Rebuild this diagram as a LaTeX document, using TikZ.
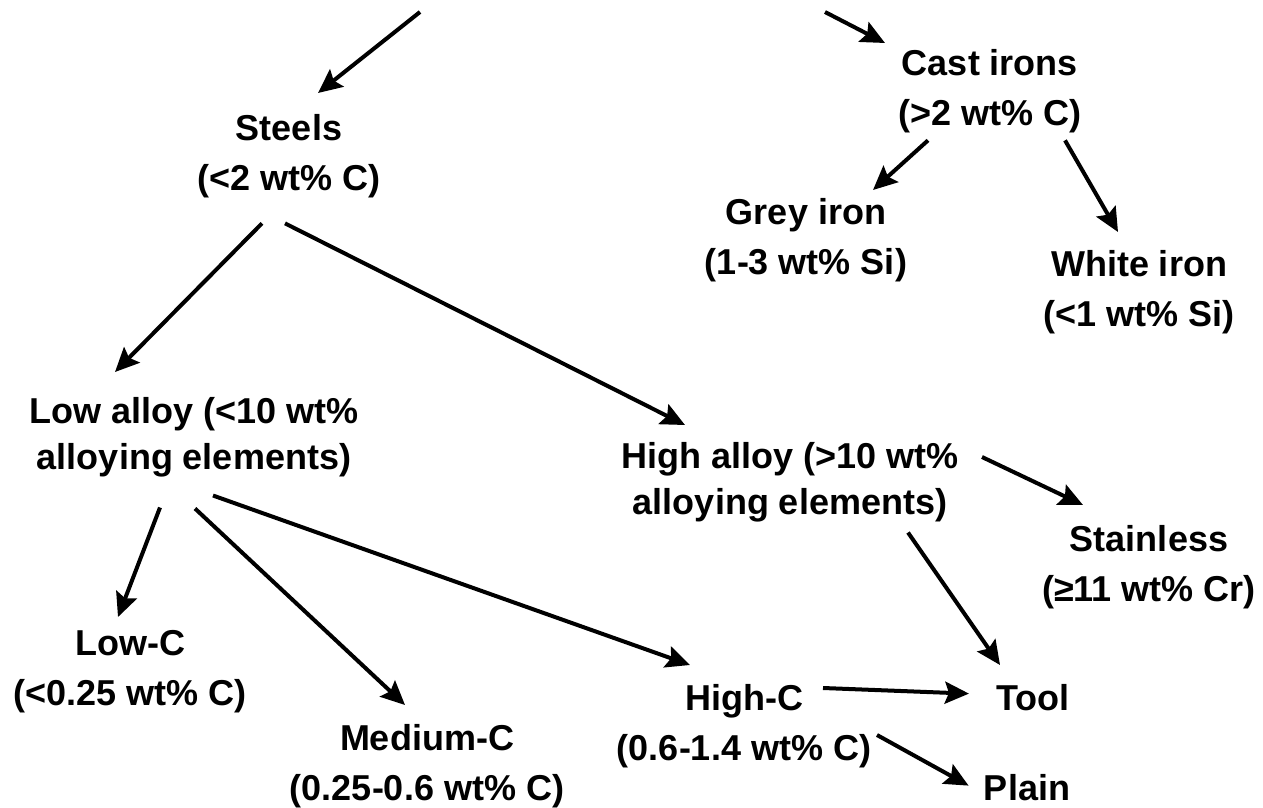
\documentclass[tikz,border=0pt]{standalone}
\usepackage{fontspec}
\setmainfont{Liberation Sans}
\usetikzlibrary{arrows.meta}

\begin{document}
\begin{tikzpicture}[x=0.5pt,y=-0.5pt,line join=round,>={Stealth[length=12pt,width=11pt,inset=2pt]},
	lbl/.style={anchor=north,inner sep=0pt,align=center,font=\bfseries\fontsize{18}{25}\selectfont},
	tight/.style={lbl,font=\bfseries\fontsize{18}{23}\selectfont},
	arr/.style={->,line width=2pt}]
	\useasboundingbox (0,0) rectangle (1263,808);
	% free ends of the two top arrows
	\coordinate (rootL) at (420,12);
	\coordinate (rootR) at (825,12);
	% classes
	\node[lbl] (steels) at (289,114) {Steels\\(<2 wt\% C)};
	\node[lbl] (castirons) at (990,49) {Cast irons\\(>2 wt\% C)};
	\node[lbl] (greyiron) at (806,198) {Grey iron\\(1-3 wt\% Si)};
	\node[lbl] (whiteiron) at (1139,250) {White iron\\(<1 wt\% Si)};
	\node[tight] (lowalloy) at (194,397) {Low alloy (<10 wt\%\\alloying elements)};
	\node[tight] (highalloy) at (790,442) {High alloy (>10 wt\%\\alloying elements)};
	\node[lbl] (stainless) at (1149,525) {Stainless\\(≥11 wt\% Cr)};
	\node[lbl] (lowc) at (130,630) {Low-C\\(<0.25 wt\% C)};
	\node[lbl] (mediumc) at (427,724) {Medium-C\\(0.25-0.6 wt\% C)};
	\node[lbl] (highc) at (744,684) {High-C\\(0.6-1.4 wt\% C)};
	\node[lbl] (tool) at (1033,684) {Tool};
	\node[lbl] (plain) at (1027,774) {Plain};
	% arrows
	\draw[arr] (rootL) -- ([shift={(29,-21)}]steels.north);
	\draw[arr] (rootR) -- ([shift={(-105,-6)}]castirons.north);
	\draw[arr] ([shift={(-62,7)}]castirons.south) -- ([shift={(67,-8)}]greyiron.north);
	\draw[arr] ([shift={(75,7)}]castirons.south) -- ([shift={(-21,-18)}]whiteiron.north);
	\draw[arr] ([shift={(-27,25)}]steels.south) -- ([shift={(-79,-25)}]lowalloy.north);
	\draw[arr] ([shift={(-4,25)}]steels.south) -- ([shift={(-105,-17)}]highalloy.north);
	\draw[arr] ([shift={(192,15)}]highalloy.north) -- ([shift={(-66,-20)}]stainless.north);
	\draw[arr] ([shift={(118,10)}]highalloy.south) -- ([shift={(-33,-19)}]tool.north);
	\draw[arr] ([shift={(-34,30)}]lowalloy.south) -- ([shift={(-12,-13)}]lowc.north);
	\draw[arr] ([shift={(1,31)}]lowalloy.south) -- ([shift={(-22,-19)}]mediumc.north);
	\draw[arr] ([shift={(19,18)}]lowalloy.south) -- ([shift={(-54,-19)}]highc.north);
	\draw[arr] ([shift={(79,4)}]highc.north) -- ([shift={(-27,-4)}]tool.west);
	\draw[arr] ([shift={(133,51)}]highc.north) -- ([shift={(-15,-2)}]plain.west);
\end{tikzpicture}
\end{document}
